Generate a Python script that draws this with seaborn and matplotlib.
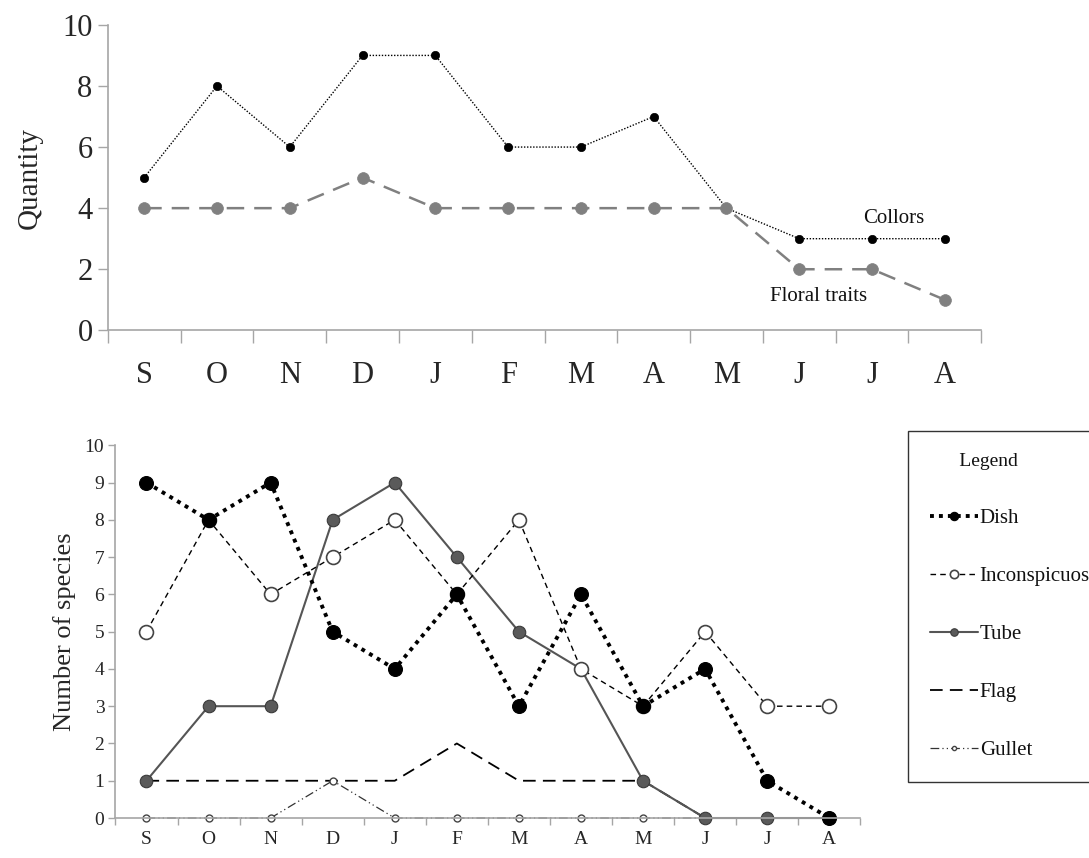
import numpy as np
import matplotlib
matplotlib.use("Agg")
import matplotlib.pyplot as plt
import seaborn as sns
from matplotlib.ticker import FixedLocator

# ---------------- data ----------------
months = ["S", "O", "N", "D", "J", "F", "M", "A", "M", "J", "J", "A"]

collors = [5, 8, 6, 9, 9, 6, 6, 7, 4, 3, 3, 3]
floral_traits = [4, 4, 4, 5, 4, 4, 4, 4, 4, 2, 2, 1]

dish = [9, 8, 9, 5, 4, 6, 3, 6, 3, 4, 1, 0]
inconspicuos = [5, 8, 6, 7, 8, 6, 8, 4, 3, 5, 3, 3]
tube = [1, 3, 3, 8, 9, 7, 5, 4, 1, 0, 0, 0]
flag = [1, 1, 1, 1, 1, 2, 1, 1, 1, 0, 0, 0]
gullet = [0, 0, 0, 1, 0, 0, 0, 0, 0, 0, 0, 0]

xpos = np.arange(len(months))

# ---------------- style ----------------
sns.set_theme(style="white")
plt.rcParams["font.family"] = ["Liberation Serif", "DejaVu Serif"]
plt.rcParams["text.color"] = "#111111"

spine_col = "#a6a6a6"

fig = plt.figure(figsize=(10.89, 8.58), dpi=100)

# ---------------- top panel ----------------
ax1 = fig.add_axes([0.099, 0.615, 0.802, 0.356])
sns.lineplot(x=xpos, y=collors, ax=ax1, color="black", linestyle=(0, (1, 1.2)),
             linewidth=1.0, marker="o", markersize=6, markerfacecolor="black",
             markeredgecolor="black", markeredgewidth=0.5, clip_on=False)
sns.lineplot(x=xpos, y=floral_traits, ax=ax1, color="#808080", linestyle=(0, (7, 4)),
             linewidth=1.8, marker="o", markersize=8.5, markerfacecolor="#808080",
             markeredgecolor="#808080", markeredgewidth=0.5, clip_on=False)

ax1.set_xlim(-0.5, len(months) - 0.5)
ax1.set_ylim(0, 10)
ax1.set_yticks(range(0, 11, 2))
ax1.set_xticks(xpos)
ax1.set_xticklabels(months)
ax1.xaxis.set_minor_locator(FixedLocator(np.arange(-0.5, len(months), 1.0)))
ax1.tick_params(axis="x", which="major", length=0, pad=22, labelsize=22)
ax1.tick_params(axis="x", which="minor", length=9, width=1, color=spine_col, direction="out", bottom=True)
ax1.tick_params(axis="y", which="major", length=7, width=1, color=spine_col, direction="out",
                left=True, pad=4, labelsize=22)
for s in ["top", "right"]:
    ax1.spines[s].set_visible(False)
for s in ["left", "bottom"]:
    ax1.spines[s].set_color(spine_col)
    ax1.spines[s].set_linewidth(1.2)
ax1.set_ylabel("Quantity", fontsize=21, labelpad=14)
ax1.set_xlabel("")
ax1.text(10.3, 3.67, "Collors", fontsize=15, ha="center", va="center")
ax1.text(9.26, 1.1, "Floral traits", fontsize=15, ha="center", va="center")

# ---------------- bottom panel ----------------
ax2 = fig.add_axes([0.106, 0.0466, 0.684, 0.4344])

sns.lineplot(x=xpos, y=flag, ax=ax2, color="black", linestyle=(0, (7, 4)),
             linewidth=1.3, label="Flag", clip_on=False)
h_flag = ax2.lines[-1]
sns.lineplot(x=xpos, y=gullet, ax=ax2, color="#333333", linestyle=(0, (7, 2.5, 1, 2.5, 1, 2.5)),
             linewidth=0.9, marker="o", markersize=5, markerfacecolor="white",
             markeredgecolor="#444444", markeredgewidth=1.0, label="Gullet", clip_on=False)
h_gullet = ax2.lines[-1]
sns.lineplot(x=xpos, y=tube, ax=ax2, color="#555555", linestyle="-",
             linewidth=1.5, marker="o", markersize=9, markerfacecolor="#5a5a5a",
             markeredgecolor="#3a3a3a", markeredgewidth=0.8, label="Tube", clip_on=False)
h_tube = ax2.lines[-1]
sns.lineplot(x=xpos, y=inconspicuos, ax=ax2, color="black", linestyle=(0, (4, 3)),
             linewidth=1.0, marker="o", markersize=10, markerfacecolor="white",
             markeredgecolor="#444444", markeredgewidth=1.2, label="Inconspicuos", clip_on=False)
h_inc = ax2.lines[-1]
sns.lineplot(x=xpos, y=dish, ax=ax2, color="black", linestyle=(0, (1, 1.3)),
             linewidth=2.8, marker="o", markersize=10, markerfacecolor="black",
             markeredgecolor="black", markeredgewidth=0.8, label="Dish", clip_on=False)
h_dish = ax2.lines[-1]
if ax2.get_legend() is not None:
    ax2.get_legend().remove()

ax2.set_xlim(-0.5, len(months) - 0.5)
ax2.set_ylim(0, 10)
ax2.set_yticks(range(0, 11))
ax2.set_xticks(xpos)
ax2.set_xticklabels(months)
ax2.xaxis.set_minor_locator(FixedLocator(np.arange(-0.5, len(months), 1.0)))
ax2.tick_params(axis="x", which="major", length=0, pad=9, labelsize=14)
ax2.tick_params(axis="x", which="minor", length=5, width=1, color=spine_col, direction="out", bottom=True)
ax2.tick_params(axis="y", which="major", length=5, width=1, color=spine_col, direction="out",
                left=True, pad=3, labelsize=14)
for s in ["top", "right"]:
    ax2.spines[s].set_visible(False)
for s in ["left", "bottom"]:
    ax2.spines[s].set_color(spine_col)
    ax2.spines[s].set_linewidth(1.2)
ax2.set_ylabel("Number of species", fontsize=19, labelpad=6)
ax2.set_xlabel("")

# ---------------- legend ----------------
handles = [h_dish, h_inc, h_tube, h_flag, h_gullet]
labels = ["Dish", "Inconspicuos", "Tube", "Flag", "Gullet"]
leg = fig.legend(handles, labels, loc="upper left", bbox_to_anchor=(0.824, 0.51),
                 title="Legend", frameon=True, fancybox=False, fontsize=15,
                 title_fontsize=14, labelspacing=1.85, handlelength=2.3,
                 handletextpad=0.1, borderpad=1.05, markerscale=0.6,
                 alignment="left")
leg.get_title().set_text("      Legend")
leg.get_frame().set_edgecolor("black")
leg.get_frame().set_linewidth(1.0)

fig.savefig("out.png", dpi=100)
